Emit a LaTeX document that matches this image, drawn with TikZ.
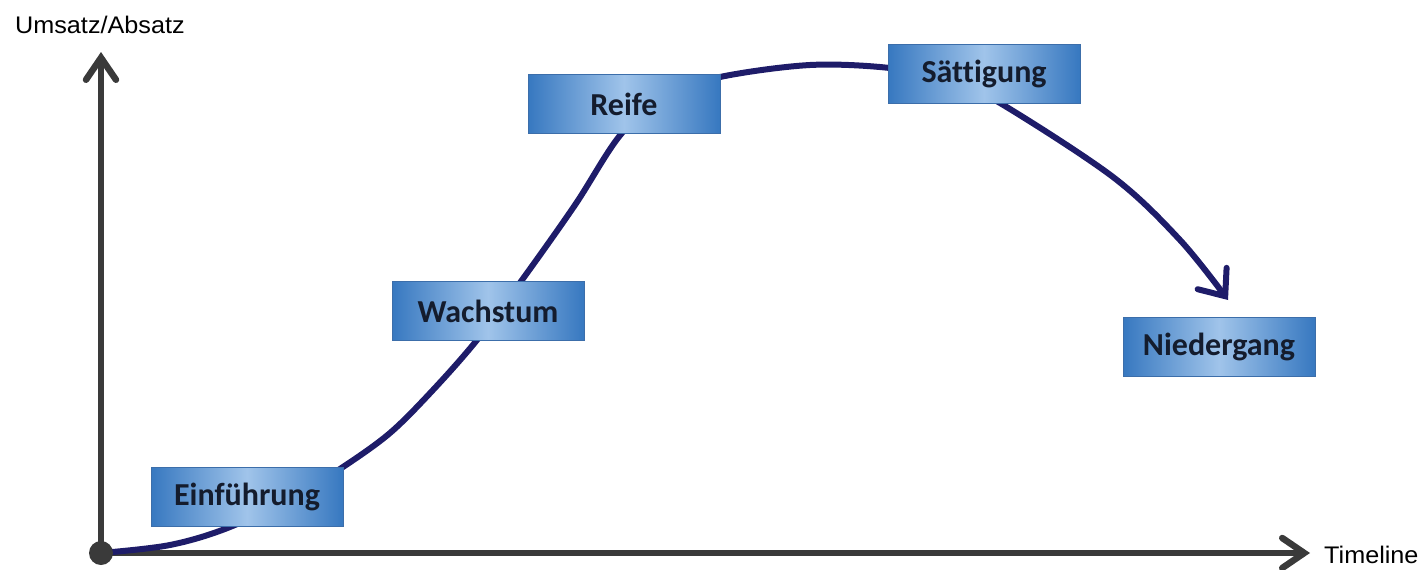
\documentclass[tikz,border=0pt]{standalone}
\usepackage{fontspec}
\setmainfont{Liberation Sans}
\newfontfamily\boxfont[Ligatures=NoCommon]{Carlito}
\newfontfamily\lblfont[FakeStretch=1.05]{Liberation Sans}
\usetikzlibrary{arrows.meta}
\definecolor{curvecol}{RGB}{30,28,105}
\definecolor{axiscol}{RGB}{58,58,58}
\definecolor{boxdark}{RGB}{55,120,192}
\definecolor{boxlight}{RGB}{160,196,234}
\definecolor{boxedge}{RGB}{60,110,170}
\definecolor{boxtext}{RGB}{20,28,45}
\begin{document}
\begin{tikzpicture}[x=1pt,y=-1pt,
  phase/.style={minimum width=192pt, minimum height=59pt, inner sep=0pt,
    left color=boxdark, right color=boxdark, middle color=boxlight,
    draw=boxedge, line width=0.8pt,
    font=\boxfont\bfseries\fontsize{32}{38}\selectfont, text=boxtext},
  axisline/.style={line width=6.5pt, draw=axiscol,
    -{Straight Barb[length=22pt,width=30pt,line cap=round]}},
  curveline/.style={line width=6pt, draw=curvecol, line cap=round,
    -{Straight Barb[length=22pt,width=36pt,line cap=round]}},
  lbl/.style={font=\lblfont\fontsize{24}{28}\selectfont, inner sep=0pt, text=black}]
\useasboundingbox (0,0) rectangle (1427,570);

\coordinate (ytip) at (101,52);
\coordinate (xtip) at (1310,553);
\coordinate (o) at (101,553);

\draw[axisline] (o) -- (ytip);
\draw[axisline] (o) -- (xtip);

\draw[curveline] plot[smooth, tension=0.55] coordinates {
  (101,553) (170,545) (230,527) (300,493) (343,467) (390,433) (433,390)
  (477,340) (522,280) (575,205) (622,133) (670,95) (720,77) (810,65)
  (890,68) (950,80) (1000,103) (1113,177) (1180,240) (1228,300)};

\node[circle, fill=axiscol, minimum size=24pt, inner sep=0pt] (dot) at (o) {};

\node[phase] (ein) at (247,497) {Einführung};
\node[phase] (wach) at (488,311) {Wachstum};
\node[phase] (reife) at (624,104) {Reife};
\node[phase] (satt) at (984,74) {Sättigung};
\node[phase] (nied) at (1219,347) {Niedergang};

\node[lbl, anchor=base west] (ylab) at (15,33) {Umsatz/Absatz};
\node[lbl, anchor=base west] (xlab) at (1324,563) {Timeline};
\end{tikzpicture}
\end{document}
